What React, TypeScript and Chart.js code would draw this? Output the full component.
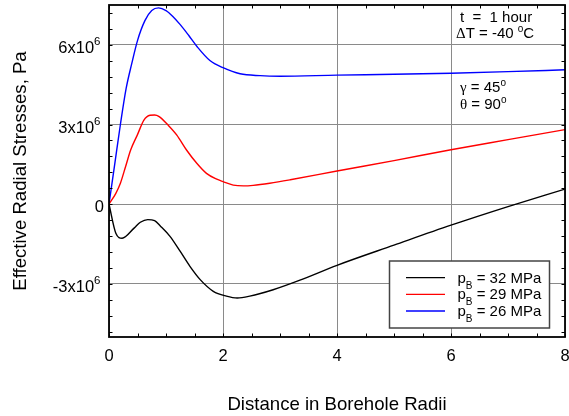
import React, { useEffect, useRef } from "react";
import { Chart, registerables } from "chart.js";
Chart.register(...registerables);

// Distance in borehole radii (x) and stress in units of 10^6 Pa (y)
const blackX = [0, 0.12, 0.23, 0.44, 0.55, 0.68, 0.8, 0.9, 1.07, 1.25, 1.42, 1.6, 1.83, 2.06, 2.25, 2.47, 2.88, 3.35, 4, 5, 6, 7, 8];
const blackY = [0, -1.09, -1.28, -0.9, -0.68, -0.58, -0.62, -0.82, -1.21, -1.78, -2.34, -2.84, -3.28, -3.46, -3.53, -3.46, -3.22, -2.86, -2.3, -1.54, -0.79, -0.09, 0.57];

const redX = [0, 0.12, 0.2, 0.29, 0.38, 0.5, 0.61, 0.72, 0.8, 0.88, 1.04, 1.19, 1.36, 1.54, 1.71, 1.89, 2.0, 2.18, 2.36, 2.53, 2.82, 3.18, 4, 5, 6, 7, 8];
const redY = [0, 0.41, 0.79, 1.41, 2.04, 2.62, 3.16, 3.35, 3.36, 3.3, 2.97, 2.6, 2.04, 1.54, 1.16, 0.94, 0.85, 0.72, 0.69, 0.71, 0.79, 0.92, 1.25, 1.64, 2.05, 2.43, 2.81];

const blueX = [0, 0.1, 0.2, 0.3, 0.4, 0.5, 0.63, 0.75, 0.87, 1.0, 1.12, 1.25, 1.4, 1.55, 1.77, 2.0, 2.3, 2.65, 3.0, 4, 5, 6, 7, 8];
const blueY = [0, 1.5, 3.0, 4.35, 5.3, 6.16, 6.91, 7.29, 7.39, 7.29, 7.07, 6.76, 6.35, 5.92, 5.41, 5.14, 4.91, 4.84, 4.82, 4.86, 4.89, 4.93, 4.99, 5.06];

const seriesNames = ["32 MPa", "29 MPa", "26 MPa"];
const seriesColors = ["#000000", "#ff0000", "#0000ff"];

const xTicks = [0, 2, 4, 6, 8];
const xTickLabels = ["0", "2", "4", "6", "8"];
const yTicks = [-3, 0, 3, 6];
const yTickBase = ["-3x10", "0", "3x10", "6x10"];
const yTickSup = ["6", "", "6", "6"];

const xMin = 0, xMax = 8, yMin = -5, yMax = 7.5;
const xMinorStep = 0.5;
const yMinorStep = 0.6;

const xTitle = "Distance in Borehole Radii";
const yTitle = "Effective Radial Stresses, Pa";

const SANS = "'Liberation Sans', Arial, sans-serif";
const SERIF = "'Liberation Serif', 'Times New Roman', serif";

type Run = { t: string; f: string; dy?: number };

function drawRuns(ctx: CanvasRenderingContext2D, runs: Run[], x: number, y: number, align: "left" | "right" | "center") {
  let total = 0;
  const widths = runs.map((r) => {
    ctx.font = r.f;
    const w = ctx.measureText(r.t).width;
    total += w;
    return w;
  });
  let cx = align === "left" ? x : align === "right" ? x - total : x - total / 2;
  ctx.textAlign = "left";
  runs.forEach((r, i) => {
    ctx.font = r.f;
    ctx.fillText(r.t, cx, y + (r.dy || 0));
    cx += widths[i];
  });
}

const overlayPlugin = {
  id: "overlay",
  afterDraw(chart: any) {
    const ctx: CanvasRenderingContext2D = chart.ctx;
    const { left, right, top, bottom } = chart.chartArea;
    const xs = chart.scales.x;
    const ys = chart.scales.y;
    ctx.save();
    // frame
    ctx.strokeStyle = "#000";
    ctx.lineWidth = 1.8;
    ctx.strokeRect(left, top, right - left, bottom - top);
    // minor ticks
    ctx.lineWidth = 1;
    ctx.beginPath();
    for (let v = xMin; v <= xMax + 1e-9; v += xMinorStep) {
      const px = Math.round(xs.getPixelForValue(v)) + 0.5;
      ctx.moveTo(px, bottom);
      ctx.lineTo(px, bottom - 3.5);
      ctx.moveTo(px, top);
      ctx.lineTo(px, top + 3.5);
    }
    for (let v = -4.8; v <= yMax + 1e-9; v += yMinorStep) {
      const py = Math.round(ys.getPixelForValue(v)) + 0.5;
      ctx.moveTo(left, py);
      ctx.lineTo(left + 3.5, py);
      ctx.moveTo(right, py);
      ctx.lineTo(right - 3.5, py);
    }
    ctx.stroke();

    ctx.fillStyle = "#000";
    ctx.textBaseline = "alphabetic";
    // x tick labels
    xTicks.forEach((v, i) => {
      const px = xs.getPixelForValue(v);
      drawRuns(ctx, [{ t: xTickLabels[i], f: `16.5px ${SANS}` }], px, 361, "center");
    });
    // y tick labels
    yTicks.forEach((v, i) => {
      const py = ys.getPixelForValue(v);
      const runs: Run[] = [{ t: yTickBase[i], f: `16.5px ${SANS}` }];
      if (yTickSup[i]) runs.push({ t: yTickSup[i], f: `11.5px ${SANS}`, dy: -8 });
      drawRuns(ctx, runs, yTickSup[i] ? 100.5 : 104, py + 8, "right");
    });
    // x title
    drawRuns(ctx, [{ t: xTitle, f: `18.6px ${SANS}` }], (left + right) / 2, 410, "center");
    // y title
    ctx.save();
    ctx.translate(26, (top + bottom) / 2);
    ctx.rotate(-Math.PI / 2);
    drawRuns(ctx, [{ t: yTitle, f: `18.6px ${SANS}` }], 0, 0, "center");
    ctx.restore();

    // annotations
    const af = `15px ${SANS}`;
    const gf = `15px ${SERIF}`;
    const sf = `10px ${SANS}`;
    drawRuns(ctx, [{ t: "t  =  1 hour", f: af }], 460, 22, "left");
    drawRuns(ctx, [{ t: "\u0394", f: gf }, { t: "T = -40 ", f: af }, { t: "o", f: sf, dy: -6 }, { t: "C", f: af }], 456, 38, "left");
    drawRuns(ctx, [{ t: "\u03b3", f: gf }, { t: " = 45", f: af }, { t: "o", f: sf, dy: -6 }], 460, 92, "left");
    drawRuns(ctx, [{ t: "\u03b8", f: gf }, { t: " = 90", f: af }, { t: "o", f: sf, dy: -6 }], 460, 108.5, "left");

    // legend
    const bx = 389.5, by = 261, bw = 160, bh = 67;
    ctx.fillStyle = "#fff";
    ctx.fillRect(bx, by, bw, bh);
    ctx.strokeStyle = "#444";
    ctx.lineWidth = 1.5;
    ctx.strokeRect(bx, by, bw, bh);
    const rowY = [277.7, 294.3, 311];
    seriesNames.forEach((name, i) => {
      ctx.strokeStyle = seriesColors[i];
      ctx.lineWidth = 1.3;
      ctx.beginPath();
      ctx.moveTo(406, rowY[i]);
      ctx.lineTo(445, rowY[i]);
      ctx.stroke();
      ctx.fillStyle = "#000";
      drawRuns(ctx, [
        { t: "p", f: `15px ${SANS}` },
        { t: "B", f: `10px ${SANS}`, dy: 6 },
        { t: " = " + name, f: `15px ${SANS}` },
      ], 457.5, rowY[i] + 5, "left");
    });
    ctx.restore();
  },
};

function toPoints(xsArr: number[], ysArr: number[]) {
  return xsArr.map((x, i) => ({ x, y: ysArr[i] }));
}

export default function App() {
  const ref = useRef<HTMLCanvasElement>(null);
  useEffect(() => {
    document.body.style.margin = "0";
    const canvas = ref.current!;
    const chart = new Chart(canvas, {
      type: "line",
      data: {
        datasets: [
          { label: seriesNames[0], data: toPoints(blackX, blackY), borderColor: seriesColors[0] },
          { label: seriesNames[1], data: toPoints(redX, redY), borderColor: seriesColors[1] },
          { label: seriesNames[2], data: toPoints(blueX, blueY), borderColor: seriesColors[2] },
        ].map((d) => ({ ...d, borderWidth: 1.4, pointRadius: 0, fill: false, cubicInterpolationMode: "monotone" as const })),
      },
      options: {
        animation: false,
        responsive: false,
        devicePixelRatio: 1,
        layout: { padding: { left: 109, right: 4, top: 5, bottom: 79 } },
        plugins: { legend: { display: false }, tooltip: { enabled: false } },
        scales: {
          x: {
            type: "linear",
            min: xMin,
            max: xMax,
            afterBuildTicks: (s: any) => { s.ticks = xTicks.map((v) => ({ value: v })); },
            ticks: { display: false },
            grid: { color: "#8a8a8a", lineWidth: 1, drawTicks: false },
            border: { display: false },
          },
          y: {
            type: "linear",
            min: yMin,
            max: yMax,
            afterBuildTicks: (s: any) => { s.ticks = yTicks.map((v) => ({ value: v })); },
            ticks: { display: false },
            grid: { color: "#8a8a8a", lineWidth: 1, drawTicks: false },
            border: { display: false },
          },
        },
      },
      plugins: [overlayPlugin],
    });
    return () => chart.destroy();
  }, []);
  return (
    <div style={{ position: "absolute", left: 0, top: 0, width: 569, height: 416, background: "#fff" }}>
      <canvas ref={ref} width={569} height={416} style={{ width: 569, height: 416 }} />
    </div>
  );
}
